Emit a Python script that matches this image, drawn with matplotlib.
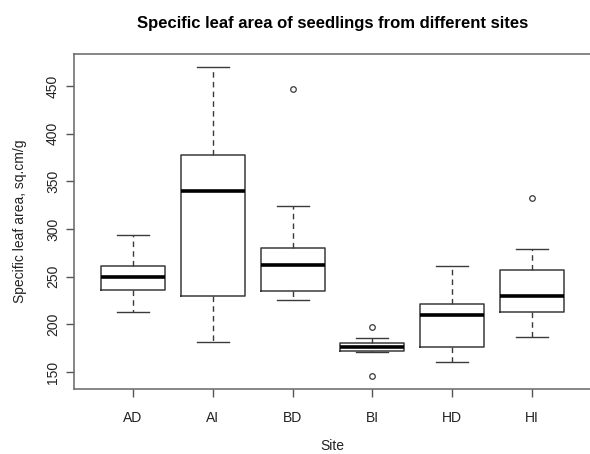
import matplotlib.pyplot as plt

plt.rcParams['font.family'] = ['Liberation Sans', 'DejaVu Sans']

sites = ["AD", "AI", "BD", "BI", "HD", "HI"]
whislo = [213, 182, 225.5, 171, 161, 187]
q1 = [236, 230, 235, 172, 176, 213]
med = [250, 340, 262.5, 176.5, 210, 230]
q3 = [261.5, 378, 280, 180, 221, 257]
whishi = [294, 470, 324, 185.5, 261, 279]
outliers = [[], [], [446.5], [197, 145.5], [], [332]]

stats = []
for i, s in enumerate(sites):
    stats.append(dict(label=s, whislo=whislo[i], q1=q1[i], med=med[i],
                      q3=q3[i], whishi=whishi[i], fliers=outliers[i]))

fig = plt.figure(figsize=(5.9, 4.54), dpi=100)
ax = fig.add_axes([74 / 590, 65 / 454, 517 / 590, 335 / 454])

line_col = "#3a3a3a"
ax.bxp(stats, positions=range(1, 7), widths=0.8,
       boxprops=dict(color=line_col, linewidth=1.1),
       medianprops=dict(color="black", linewidth=2.6, solid_capstyle="butt"),
       whiskerprops=dict(color=line_col, linewidth=1.0, linestyle=(0, (4, 3))),
       capprops=dict(color=line_col, linewidth=1.0),
       flierprops=dict(marker="o", markersize=4, markerfacecolor="none",
                       markeredgecolor=line_col, markeredgewidth=0.9),
       capwidths=0.4)

ax.set_xlim(0.26, 6.74)
ax.set_ylim(132.2, 483.5)
ax.set_yticks([150, 200, 250, 300, 350, 400, 450])
ax.set_xticks(range(1, 7))
ax.set_xticklabels(sites)
for lab in ax.get_yticklabels():
    lab.set_rotation(90)
    lab.set_va("center")
ax.tick_params(axis="both", colors="#555555", labelcolor="#222222",
               labelsize=10, length=6, width=1.0)
ax.tick_params(axis="y", pad=4)
ax.tick_params(axis="x", pad=10)
for sp in ax.spines.values():
    sp.set_color("#666666")
    sp.set_linewidth(1.1)

# x label sits close to the bottom edge, place it directly
fig.text((74 + 591) / 2 / 590, 1 - 446 / 454, "Site", fontsize=10,
         color="#222222", ha="center", va="center")
ax.set_ylabel("Specific leaf area, sq.cm/g", fontsize=10, color="#222222", labelpad=14)
ax.set_title("Specific leaf area of seedlings from different sites",
             fontsize=12, fontweight="bold", pad=19)

fig.savefig("out.png", dpi=100)
